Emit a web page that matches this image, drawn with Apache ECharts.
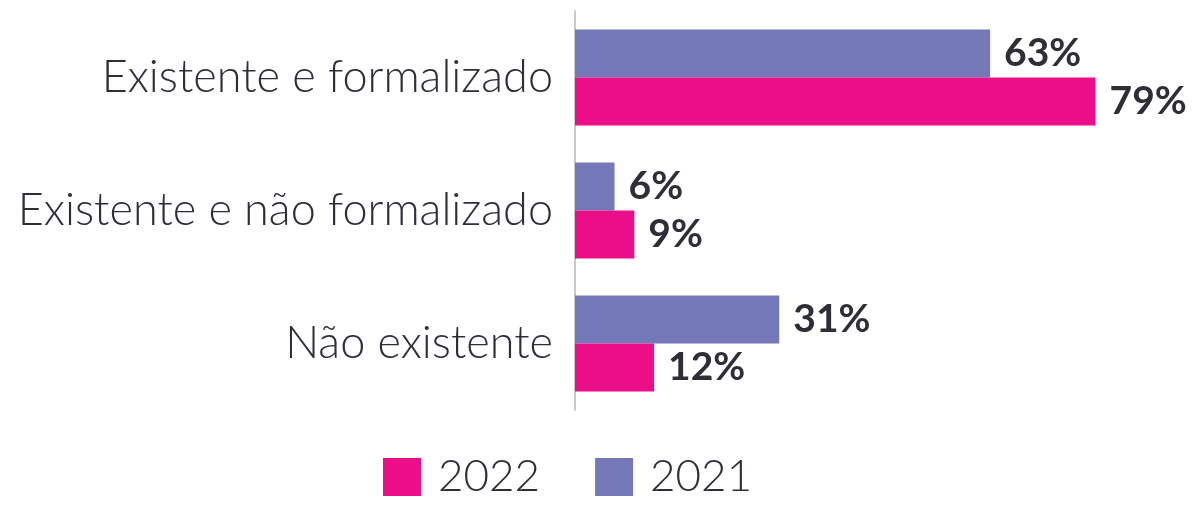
<!DOCTYPE html>
<html>
<head>
<meta charset="utf-8">
<script src="https://cdn.jsdelivr.net/npm/echarts@6/dist/echarts.min.js"></script>
<style>
html,body{margin:0;padding:0;background:#fff;}
#chart{width:1204px;height:505px;}
</style>
</head>
<body>
<div id="chart"></div>
<script>
const categories = ['Existente e formalizado', 'Existente e não formalizado', 'Não existente'];
const values2021 = [63, 6, 31];
const values2022 = [79, 9, 12];
const legendOrder = ['2022', '2021'];

const textColor = '#2e2e38';
const chart = echarts.init(document.getElementById('chart'));
const labelStyle = {
  show: true,
  position: 'right',
  distance: 14,
  formatter: '{c}%',
  fontFamily: 'Lato',
  fontWeight: 'bold',
  fontSize: 39,
  color: textColor
};
chart.setOption({
  animation: false,
  grid: { left: 575, right: 36, top: 11, height: 399 },
  legend: {
    data: legendOrder,
    top: 455,
    left: 383,
    padding: 0,
    itemWidth: 38,
    itemHeight: 38,
    itemGap: 55,
    icon: 'rect',
    textStyle: { fontFamily: 'Lato', fontSize: 44, color: textColor, fontWeight: 300, padding: [0, 0, 0, 12] }
  },
  xAxis: {
    type: 'value', min: 0, max: 90,
    show: false
  },
  yAxis: {
    type: 'category',
    data: categories,
    inverse: true,
    axisLine: { show: true, lineStyle: { color: '#c8c8d0', width: 2 } },
    axisTick: { show: false },
    axisLabel: { fontFamily: 'Lato', fontWeight: 300, fontSize: 45, color: textColor, margin: 22 }
  },
  series: [
    { name: '2021', type: 'bar', data: values2021, barWidth: 48, barGap: '0%',
      itemStyle: { color: '#7578b8' }, label: labelStyle },
    { name: '2022', type: 'bar', data: values2022, barWidth: 48, barGap: '0%',
      itemStyle: { color: '#ea0f89' }, label: labelStyle }
  ]
});
</script>
</body>
</html>
